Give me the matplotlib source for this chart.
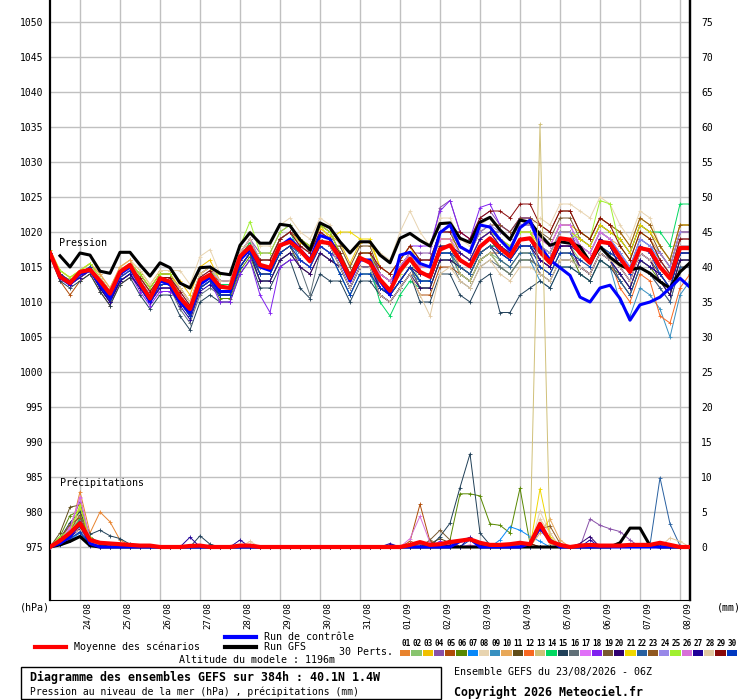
import numpy as np
import matplotlib
matplotlib.use('Agg')
import matplotlib.pyplot as plt
from matplotlib.lines import Line2D
from matplotlib.patches import Rectangle
import matplotlib.transforms as mtransforms

plt.rcParams['font.family'] = ['DejaVu Sans Mono', 'DejaVu Sans']

# time axis: 6-hourly steps over 384h
hours = np.arange(65) * 6
day_hours = [18 + 24 * k for k in range(16)]
day_labels = ['24/08', '25/08', '26/08', '27/08', '28/08', '29/08', '30/08', '31/08',
              '01/09', '02/09', '03/09', '04/09', '05/09', '06/09', '07/09', '08/09']

member_colors = ['#e8832e', '#88c46e', '#f0c000', '#8850a8', '#b04c08', '#588800',
                 '#0888f8', '#e8d4b0', '#3890c0', '#e8a858', '#604c18', '#f86820',
                 '#d0c078', '#00d860', '#204058', '#607078', '#e070f8', '#8020f0',
                 '#785830', '#300070', '#f0d800', '#2860a0', '#905820', '#9888e8',
                 '#a0f030', '#d870d8', '#200098', '#e0c8a0', '#880808', '#0038c0']

# ensemble mean, control run and GFS run (hPa)
pres_mean = [1017, 1013.6, 1012.7, 1014.3, 1014.6, 1013, 1011.2, 1014.3, 1015.3, 1012.7,
             1010.5, 1013.4, 1012.9, 1010.6, 1009, 1013.1, 1013.9, 1012.2, 1012, 1016.5,
             1017.9, 1015.3, 1014.9, 1018.1, 1018.6, 1017.4, 1015.8, 1018.6, 1018.4, 1016.3,
             1013.4, 1016.3, 1015.6, 1013.2, 1011.6, 1014.5, 1016.2, 1014.3, 1013.6, 1017.5,
             1018.1, 1016, 1015.1, 1017.9, 1019.1, 1017.7, 1016.5, 1018.9, 1019.1, 1017.2,
             1015.6, 1019.1, 1018.9, 1017, 1015.6, 1018.6, 1018.4, 1016.3, 1014.3, 1017.7,
             1017.4, 1015, 1013.4, 1017.7, 1017.7]
pres_ctrl = [1017, 1013.5, 1012.5, 1014, 1014.5, 1012.5, 1010.5, 1014, 1015, 1012.5,
             1010, 1013, 1012.5, 1010, 1008.5, 1012.5, 1013.5, 1011.5, 1011.5, 1016,
             1017.5, 1015, 1014.5, 1018, 1019, 1017.5, 1016, 1019.5, 1019, 1016,
             1013, 1016, 1016, 1013, 1011, 1016.7, 1017.1, 1015.5, 1015, 1019.9,
             1021, 1017.9, 1017.1, 1021, 1020.7, 1018.9, 1017.4, 1020.6, 1021.7, 1018,
             1016, 1014.9, 1013.8, 1010.7, 1010, 1012, 1012.4, 1010.5, 1007.4, 1009.6,
             1010, 1010.7, 1012, 1013.4, 1012.1]
pres_gfs = [np.nan, 1016.6, 1015, 1017, 1016.7, 1014.4, 1014.1, 1017.1, 1017.1, 1015.3,
            1013.7, 1015.6, 1014.9, 1012.7, 1012, 1014.9, 1015, 1014.1, 1013.9, 1018.1,
            1019.9, 1018.4, 1018.4, 1021.1, 1020.9, 1018.9, 1017.4, 1021.3, 1020.6, 1018.6,
            1017, 1018.6, 1018.6, 1016.7, 1015.6, 1019.1, 1019.8, 1018.8, 1018, 1021.2,
            1021.3, 1019.1, 1018.5, 1021.4, 1022.1, 1020.3, 1018.9, 1021.7, 1021.4, 1019.6,
            1018.1, 1018.6, 1018.4, 1017.9, 1015.7, 1017.9, 1016.4, 1015.3, 1014.6, 1014.9,
            1014.1, 1012.9, 1012, 1014.3, 1015.6]

# 30 perturbed members (hPa)
pres_01 = [1017, 1014, 1013, 1014, 1015, 1013, 1011, 1014, 1015, 1014, 1012, 1014, 1014,
           1012, 1010, 1014, 1015, 1012, 1012, 1016, 1018, 1014, 1014, 1017, 1018,
           1016, 1015, 1018, 1017, 1016, 1013, 1016, 1016, 1014, 1013, 1015, 1017,
           1014, 1014, 1018, 1018, 1015, 1014, 1017, 1018, 1016, 1015, 1017, 1017,
           1014, 1013, 1016, 1016, 1015, 1014, 1017, 1016, 1013, 1011, 1015, 1014,
           1012, 1010, 1015, 1015]
pres_02 = [1017, 1013.5, 1012.5, 1013.5, 1014.5, 1012, 1010, 1013, 1014, 1012, 1010, 1012, 1012,
           1011, 1009, 1013, 1014, 1012, 1012, 1016, 1018, 1016, 1016, 1019, 1020,
           1018, 1017, 1020, 1019, 1017, 1014, 1017, 1017, 1013, 1012, 1014, 1016,
           1013, 1013, 1017, 1017, 1014, 1013, 1016, 1017, 1016, 1015, 1017, 1017,
           1016, 1015, 1018, 1018, 1016, 1015, 1018, 1017, 1016, 1014, 1018, 1017,
           1015, 1013, 1018, 1018]
pres_03 = [1017, 1014.5, 1013.5, 1014.5, 1015.5, 1014, 1012, 1015, 1016, 1014.5, 1012.5, 1014.5, 1014.5,
           1013, 1011, 1015, 1016, 1013, 1013, 1017, 1019, 1016, 1016, 1019, 1020,
           1018.5, 1017.5, 1020.5, 1019.5, 1018.5, 1015.5, 1018.5, 1018.5, 1015, 1014, 1016, 1018,
           1016, 1016, 1020, 1020, 1017, 1016, 1019, 1020, 1019, 1018, 1020, 1020,
           1019, 1018, 1021, 1021, 1020, 1019, 1022, 1021, 1020, 1018, 1022, 1021,
           1018, 1016, 1021, 1021]
pres_04 = [1017, 1013.5, 1012.5, 1013.5, 1014.5, 1012.5, 1010.5, 1013.5, 1014.5, 1013, 1011, 1013, 1013,
           1012, 1010, 1014, 1015, 1013, 1013, 1017, 1019, 1017, 1017, 1020, 1021,
           1019, 1018, 1021, 1020, 1017, 1014, 1017, 1017, 1014, 1013, 1015, 1017,
           1017, 1017, 1023.5, 1024.5, 1020, 1019, 1022, 1023, 1021, 1020, 1022, 1022,
           1019, 1018, 1021, 1021, 1018, 1017, 1020, 1019, 1017, 1015, 1019, 1018,
           1017, 1015, 1020, 1020]
pres_05 = [1017, 1013, 1011, 1013, 1014, 1011.5, 1009.5, 1012.5, 1013.5, 1012.5, 1010.5, 1012.5, 1012.5,
           1011, 1009, 1013, 1014, 1011, 1011, 1015, 1017, 1014, 1014, 1017, 1018,
           1017, 1016, 1019, 1018, 1015, 1012, 1015, 1015, 1011, 1010, 1012, 1014,
           1011, 1011, 1015, 1015, 1014, 1013, 1016, 1017, 1017, 1016, 1018, 1018,
           1016, 1015, 1018, 1018, 1015, 1014, 1017, 1016, 1014, 1012, 1016, 1015,
           1014, 1012, 1017, 1017]
pres_06 = [1017, 1014, 1013, 1014, 1015, 1012, 1010, 1013, 1014, 1012, 1010, 1012, 1012,
           1010, 1008, 1012, 1013, 1010.5, 1010.5, 1014.5, 1016.5, 1013, 1013, 1016, 1017,
           1016, 1015, 1018, 1017, 1014, 1011, 1014, 1014, 1012, 1011, 1013, 1015,
           1013, 1013, 1017, 1017, 1014, 1013, 1016, 1017, 1015, 1014, 1016, 1016,
           1015, 1014, 1017, 1017, 1014, 1013, 1016, 1015, 1014, 1012, 1016, 1015,
           1013, 1011, 1016, 1016]
pres_07 = [1017, 1014, 1013, 1014, 1015, 1013.5, 1011.5, 1014.5, 1015.5, 1013.5, 1011.5, 1013.5, 1013.5,
           1012, 1010, 1014, 1015, 1012, 1012, 1016, 1018, 1015, 1015, 1018, 1019,
           1016, 1015, 1018, 1017, 1016, 1013, 1016, 1016, 1014, 1013, 1015, 1017,
           1015, 1015, 1019, 1019, 1016, 1015, 1018, 1019, 1017, 1016, 1018, 1018,
           1017, 1016, 1019, 1019, 1018, 1017, 1020, 1019, 1017, 1015, 1019, 1018,
           1016, 1014, 1019, 1019]
pres_08 = [1017.5, 1014.5, 1013.5, 1014.5, 1015.5, 1014, 1012, 1015, 1016, 1014.5, 1012.5, 1014.5, 1014.5,
           1014.5, 1012.5, 1016.5, 1017.5, 1014, 1014, 1018, 1020, 1018, 1018, 1021, 1022,
           1020, 1019, 1022, 1021, 1018, 1015, 1018, 1018, 1017, 1016, 1020, 1023,
           1020, 1018, 1022, 1022, 1019, 1018, 1021, 1022, 1020, 1019, 1021, 1021,
           1022, 1021, 1024, 1024, 1023, 1022, 1025, 1024, 1021, 1019, 1023, 1022,
           1018, 1016, 1021, 1021]
pres_09 = [1017, 1014, 1013, 1014, 1015, 1012.5, 1010.5, 1013.5, 1014.5, 1012, 1010, 1012, 1012,
           1010, 1008, 1012, 1013, 1011, 1011, 1015, 1017, 1013, 1013, 1016, 1017,
           1016, 1015, 1018, 1017, 1014, 1011, 1014, 1014, 1011, 1010, 1012, 1014,
           1013, 1013, 1017, 1017, 1014, 1013, 1016, 1017, 1015, 1014, 1016, 1016,
           1013, 1012, 1015, 1015, 1014, 1013, 1016, 1015, 1010, 1008, 1012, 1011,
           1009, 1005, 1011, 1013]
pres_10 = [1017, 1014.5, 1013.5, 1014.5, 1015.5, 1014, 1012, 1015, 1016, 1013.5, 1011.5, 1013.5, 1013.5,
           1011, 1009, 1013, 1014, 1013, 1013, 1017, 1019, 1016, 1016, 1019, 1020,
           1019, 1018, 1021, 1020, 1017, 1014, 1017, 1017, 1013, 1012, 1014, 1016,
           1015, 1015, 1019, 1019, 1018, 1017, 1020, 1021, 1019, 1018, 1020, 1020,
           1017, 1016, 1019, 1019, 1018, 1017, 1020, 1019, 1018, 1016, 1020, 1019,
           1017, 1015, 1020, 1020]
pres_11 = [1017, 1013.5, 1012.5, 1013.5, 1014.5, 1013, 1011, 1014, 1015, 1012, 1010, 1012, 1012,
           1010.5, 1008.5, 1012.5, 1013.5, 1012, 1012, 1016, 1018, 1014, 1014, 1017, 1018,
           1015, 1014, 1017, 1016, 1015, 1012, 1015, 1015, 1012, 1011, 1013, 1015,
           1012, 1012, 1016, 1016, 1015, 1014, 1017, 1018, 1018, 1017, 1019, 1019,
           1018, 1017, 1020, 1020, 1017, 1016, 1019, 1018, 1015, 1013, 1017, 1016,
           1014, 1012, 1017, 1017]
pres_12 = [1017, 1014, 1013, 1014, 1015, 1013, 1011, 1014, 1015, 1012.5, 1010.5, 1012.5, 1012.5,
           1011, 1009, 1013, 1014, 1012.5, 1012.5, 1016.5, 1018.5, 1015, 1015, 1018, 1019,
           1018, 1017, 1020, 1019, 1016, 1013, 1016, 1016, 1012, 1011, 1013, 1015,
           1014, 1014, 1018, 1018, 1017, 1016, 1019, 1020, 1018, 1017, 1019, 1019,
           1016, 1015, 1018, 1018, 1015, 1014, 1017, 1016, 1012, 1010, 1014, 1013,
           1008, 1007, 1012, 1014]
pres_13 = [1017, 1014, 1013, 1014, 1015, 1013.5, 1011.5, 1014.5, 1015.5, 1013, 1011, 1013, 1013,
           1010, 1008, 1012, 1013, 1011, 1011, 1015, 1017, 1015, 1015, 1018, 1019,
           1017, 1016, 1019, 1018, 1017, 1014, 1017, 1017, 1013, 1012, 1014, 1016,
           1014, 1014, 1018, 1018, 1014, 1013, 1016, 1017, 1015, 1014, 1016, 1016,
           1015, 1014, 1017, 1017, 1016, 1015, 1018, 1017, 1016, 1014, 1018, 1017,
           1016, 1014, 1019, 1019]
pres_14 = [1016.5, 1013.5, 1012.5, 1013.5, 1014.5, 1012, 1010, 1013, 1014, 1012, 1010, 1012, 1012,
           1011, 1009, 1013, 1014, 1012.5, 1012.5, 1016.5, 1018.5, 1016, 1016, 1019, 1020,
           1017, 1016, 1019, 1018, 1015, 1012, 1015, 1015, 1010, 1008, 1011, 1013,
           1012, 1012, 1016, 1016, 1015, 1014, 1017, 1018, 1018, 1017, 1019, 1019,
           1018, 1017, 1020, 1020, 1019, 1018, 1021, 1020, 1019, 1017, 1021, 1020,
           1020, 1018, 1024, 1024]
pres_15 = [1016.5, 1013, 1012, 1013, 1014, 1011.5, 1009.5, 1012.5, 1013.5, 1011, 1009, 1011, 1011,
           1008, 1006, 1010, 1011, 1010, 1010, 1014, 1016, 1012, 1012, 1015, 1016,
           1012, 1010.5, 1014, 1013, 1013, 1010, 1013, 1013, 1011, 1010, 1012, 1014,
           1010, 1010, 1014, 1014, 1011, 1010, 1013, 1014, 1008.5, 1008.5, 1011, 1012,
           1013, 1012, 1015, 1015, 1014, 1013, 1016, 1015, 1013, 1011, 1015, 1014,
           1013, 1011, 1016, 1016]
pres_16 = [1017, 1014, 1013, 1014, 1015, 1012.5, 1010.5, 1013.5, 1014.5, 1012, 1010, 1012, 1012,
           1009, 1007, 1011, 1012, 1011, 1011, 1015, 1017, 1013, 1013, 1016, 1017,
           1015, 1011, 1017, 1016, 1015, 1012, 1015, 1015, 1012, 1011, 1013, 1015,
           1012, 1012, 1016, 1016, 1013, 1012, 1015, 1016, 1015, 1014, 1016, 1016,
           1015, 1014, 1017, 1017, 1015, 1014, 1017, 1016, 1014, 1012, 1016, 1015,
           1014, 1012, 1017, 1017]
pres_17 = [1017, 1014, 1013, 1014, 1015, 1013.5, 1011.5, 1014.5, 1015.5, 1013, 1011, 1013, 1013,
           1012, 1010, 1014, 1015, 1013, 1013, 1017, 1019, 1015, 1015, 1018, 1019,
           1018, 1017, 1020, 1019, 1017, 1014, 1017, 1017, 1013, 1012, 1014, 1016,
           1015, 1015, 1019, 1019, 1016, 1015, 1018, 1019, 1019, 1018, 1020, 1020,
           1019, 1018, 1021, 1021, 1018, 1017, 1020, 1019, 1016, 1014, 1018, 1017,
           1017, 1015, 1020, 1020]
pres_18 = [1017, 1013.5, 1012.5, 1013.5, 1014.5, 1012, 1010, 1013, 1014, 1011.5, 1009.5, 1011.5, 1011.5,
           1010, 1008, 1012, 1013, 1010, 1010, 1014, 1016, 1011, 1008.5, 1015, 1016,
           1016, 1015, 1018, 1017, 1016, 1013, 1016, 1016, 1015, 1014, 1016, 1018,
           1018, 1018, 1023, 1024.5, 1020, 1019, 1023.5, 1024, 1021, 1020, 1022, 1022,
           1018, 1017, 1020, 1020, 1017, 1016, 1019, 1018, 1015, 1013, 1017, 1016,
           1015, 1013, 1018, 1018]
pres_19 = [1017, 1014, 1013, 1014, 1015, 1013, 1011, 1014, 1015, 1013.5, 1011.5, 1013.5, 1013.5,
           1011, 1009, 1013, 1014, 1013, 1013, 1017, 1019, 1015, 1015, 1018, 1019,
           1017, 1016, 1019, 1018, 1018, 1015, 1018, 1018, 1014, 1013, 1015, 1017,
           1016, 1016, 1020, 1020, 1017, 1016, 1019, 1020, 1020, 1019, 1021, 1021,
           1020, 1019, 1022, 1022, 1019, 1018, 1021, 1020, 1019, 1017, 1021, 1020,
           1017, 1015, 1020, 1020]
pres_20 = [1017, 1013.5, 1012.5, 1013.5, 1014.5, 1012, 1010, 1013, 1014, 1012, 1010, 1012, 1012,
           1010, 1008, 1012, 1013, 1011, 1011, 1015, 1017, 1013, 1013, 1016, 1017,
           1015, 1014, 1017, 1016, 1015, 1012, 1015, 1015, 1011, 1010, 1012, 1014,
           1012, 1012, 1016, 1016, 1015, 1014, 1017, 1018, 1017, 1016, 1018, 1018,
           1016, 1015, 1018, 1018, 1017, 1016, 1019, 1018, 1015, 1013, 1017, 1016,
           1013, 1011, 1016, 1016]
pres_21 = [1017.5, 1014.5, 1013.5, 1014.5, 1015.5, 1013.5, 1011.5, 1014.5, 1015.5, 1014, 1012, 1014, 1014,
           1012, 1010, 1014, 1015, 1012, 1012, 1016, 1018, 1016, 1016, 1019, 1020,
           1018, 1017, 1021, 1019, 1020, 1020, 1019, 1019, 1015, 1014, 1016, 1018,
           1015, 1015, 1019, 1019, 1016, 1015, 1018, 1019, 1019, 1018, 1020, 1020,
           1018, 1017, 1020, 1020, 1019, 1018, 1021, 1020, 1019, 1017, 1021, 1020,
           1018, 1016, 1021, 1021]
pres_22 = [1017, 1014, 1013, 1014, 1015, 1012.5, 1010.5, 1013.5, 1014.5, 1013, 1011, 1013, 1013,
           1010, 1008, 1012, 1013, 1011, 1011, 1015, 1017, 1014, 1014, 1017, 1018,
           1017, 1016, 1019, 1018, 1016, 1013, 1016, 1016, 1012, 1011, 1013, 1015,
           1013, 1013, 1017, 1017, 1015, 1014, 1017, 1018, 1016, 1015, 1017, 1017,
           1014, 1013, 1016, 1016, 1015, 1014, 1017, 1016, 1013, 1011, 1015, 1014,
           1012, 1010, 1015, 1015]
pres_23 = [1017, 1014, 1013, 1014, 1015, 1013.5, 1011.5, 1014.5, 1015.5, 1014, 1012, 1014, 1014,
           1011, 1009, 1013, 1014, 1012, 1012, 1016, 1018, 1016, 1016, 1019, 1020,
           1019, 1018, 1021, 1020, 1017, 1014, 1017, 1017, 1014, 1013, 1015, 1017,
           1016, 1016, 1020, 1020, 1018, 1017, 1020, 1021, 1021, 1020, 1022, 1022,
           1021, 1020, 1023, 1023, 1020, 1019, 1022, 1021, 1020, 1018, 1022, 1021,
           1018, 1016, 1021, 1021]
pres_24 = [1017, 1014, 1013, 1014, 1015, 1013, 1011, 1014, 1015, 1013, 1011, 1013, 1013,
           1011.5, 1009.5, 1013.5, 1014.5, 1013, 1013, 1017, 1019, 1016, 1016, 1019, 1020,
           1018, 1017, 1020, 1019, 1016, 1013, 1016, 1016, 1014, 1013, 1015, 1017,
           1016, 1016, 1020, 1020, 1018, 1017, 1020, 1021, 1020, 1019, 1021, 1021,
           1018, 1017, 1020, 1020, 1018, 1017, 1020, 1019, 1017, 1015, 1019, 1018,
           1017, 1015, 1020, 1020]
pres_25 = [1017, 1014.5, 1013.5, 1014.5, 1015.5, 1013.5, 1011.5, 1014.5, 1015.5, 1014, 1012, 1014, 1014,
           1011, 1009, 1013, 1014, 1014, 1014, 1018, 1021.5, 1017, 1017, 1020, 1021,
           1019, 1018, 1021, 1020, 1017, 1014, 1017, 1017, 1013, 1012, 1014, 1016,
           1014, 1014, 1018, 1018, 1017, 1016, 1019, 1020, 1019, 1018, 1020, 1020,
           1017, 1016, 1019, 1019, 1020, 1019, 1024.5, 1024, 1018, 1016, 1020, 1019,
           1016, 1014, 1019, 1019]
pres_26 = [1017, 1013.5, 1012.5, 1013.5, 1014.5, 1012.5, 1010.5, 1013.5, 1014.5, 1012, 1010, 1012, 1012,
           1011, 1009, 1013, 1014, 1012, 1012, 1016, 1018, 1015, 1015, 1018, 1019,
           1017, 1016, 1019, 1018, 1016, 1013, 1016, 1016, 1014, 1013, 1015, 1017,
           1015, 1015, 1019, 1019, 1017, 1016, 1019, 1020, 1018, 1017, 1019, 1019,
           1017, 1016, 1019, 1019, 1018, 1017, 1020, 1019, 1016, 1014, 1018, 1017,
           1016, 1014, 1019, 1019]
pres_27 = [1017, 1013.5, 1012.5, 1013.5, 1014.5, 1012, 1010, 1013, 1014, 1012, 1010, 1012, 1012,
           1009.5, 1007.5, 1011.5, 1012.5, 1011, 1011, 1015, 1017, 1015, 1015, 1018, 1019,
           1017, 1016, 1019, 1018, 1015, 1012, 1015, 1015, 1012, 1011, 1013, 1015,
           1014, 1014, 1018, 1018, 1017, 1016, 1019, 1020, 1018, 1017, 1019, 1019,
           1016, 1015, 1018, 1018, 1015, 1014, 1017, 1016, 1014, 1012, 1016, 1015,
           1014, 1012, 1017, 1017]
pres_28 = [1017, 1014, 1013, 1014, 1015, 1013.5, 1011.5, 1014.5, 1015.5, 1013.5, 1011.5, 1013.5, 1013.5,
           1012, 1010, 1014, 1015, 1013, 1013, 1017, 1019, 1015, 1015, 1018, 1019,
           1017, 1016, 1019, 1018, 1015, 1012, 1015, 1015, 1011, 1010, 1012, 1014,
           1011, 1008, 1014, 1015, 1013, 1012, 1015, 1016, 1014, 1013, 1015, 1015,
           1014, 1013, 1016, 1016, 1015, 1014, 1017, 1016, 1015, 1013, 1017, 1016,
           1015, 1013, 1018, 1018]
pres_29 = [1017, 1014, 1013, 1014, 1015, 1013, 1011, 1014, 1015, 1013.5, 1011.5, 1013.5, 1013.5,
           1011.5, 1009.5, 1013.5, 1014.5, 1012, 1012, 1016, 1018, 1016, 1016, 1019, 1020,
           1018, 1017, 1020, 1019, 1017, 1014, 1017, 1017, 1015, 1014, 1016, 1018,
           1016, 1016, 1020, 1020, 1020, 1019, 1022, 1023, 1023, 1022, 1024, 1024,
           1021, 1020, 1023, 1023, 1020, 1019, 1022, 1021, 1018, 1016, 1020, 1019,
           1016, 1014, 1019, 1019]
pres_30 = [1017, 1014, 1013, 1014, 1015, 1012.5, 1010.5, 1013.5, 1014.5, 1012.5, 1010.5, 1012.5, 1012.5,
           1010, 1008, 1012, 1013, 1011, 1011, 1015, 1017, 1014, 1014, 1017, 1018,
           1016, 1015, 1018, 1017, 1014, 1011, 1014, 1014, 1012, 1011, 1013, 1015,
           1013, 1013, 1017, 1017, 1016, 1015, 1018, 1019, 1017, 1016, 1018, 1018,
           1015, 1014, 1017, 1017, 1016, 1015, 1018, 1017, 1016, 1014, 1018, 1017,
           1014, 1012, 1017, 1017]

# precipitation (mm), only the non-zero steps: {step index: mm}
rain_mean = {1: 0.9, 2: 2.0, 3: 3.4, 4: 1.0, 5: 0.6, 6: 0.5, 7: 0.4, 8: 0.3, 9: 0.2, 10: 0.2,
             14: 0.15, 15: 0.2, 19: 0.2, 20: 0.2, 36: 0.3, 37: 0.7, 38: 0.3, 39: 0.4,
             40: 0.7, 41: 0.9, 42: 1.1, 43: 0.6, 44: 0.3, 45: 0.3, 46: 0.4, 47: 0.6, 48: 0.4,
             49: 3.3, 50: 0.8, 51: 0.3, 53: 0.2, 54: 0.3, 55: 0.2, 56: 0.2, 57: 0.2, 58: 0.3,
             59: 0.3, 60: 0.3, 61: 0.6, 62: 0.3}
rain_ctrl = {1: 0.5, 2: 1.5, 3: 3.5, 4: 0.5, 41: 0.8, 42: 1.2, 48: 0.5, 49: 2.7, 50: 1.0}
rain_gfs = {1: 0.3, 2: 0.8, 3: 1.5, 4: 0.2, 57: 0.6, 58: 2.7, 59: 2.7, 60: 0.2}
rain_01 = {1: 0.5, 2: 2.0, 3: 7.9, 4: 2.0, 5: 5.0, 6: 3.6, 7: 1.0, 8: 0.2}
rain_02 = {1: 1.0, 2: 2.5, 3: 4.0, 4: 0.8, 5: 0.2}
rain_03 = {1: 0.5, 2: 1.5, 3: 3.0, 4: 0.5}
rain_04 = {1: 1.2, 2: 3.0, 3: 6.5, 4: 1.0, 5: 0.3, 37: 0.5, 54: 4.0, 55: 3.1, 56: 2.6, 57: 2.2, 58: 1.0}
rain_05 = {1: 0.8, 2: 2.2, 3: 3.5, 4: 0.6, 36: 0.8, 37: 6.1, 38: 0.8, 39: 0.3, 40: 1.0}
rain_06 = {1: 1.5, 2: 4.5, 3: 5.2, 4: 1.0, 40: 1.0, 41: 7.6, 42: 7.6, 43: 7.3, 44: 3.3,
           45: 3.1, 46: 2.0, 47: 8.4, 48: 0.5}
rain_07 = {1: 0.3, 2: 1.0, 3: 2.0, 4: 0.3, 45: 1.0, 46: 2.9, 47: 2.4, 48: 1.5, 49: 0.8}
rain_08 = {1: 0.5, 2: 1.8, 3: 3.5, 4: 0.8, 49: 5.1, 50: 2.0}
rain_09 = {1: 0.8, 2: 2.5, 3: 2.8, 4: 1.0, 5: 0.3}
rain_10 = {1: 0.6, 2: 1.7, 3: 5.5, 4: 1.2, 49: 2.0, 50: 4.0, 51: 1.0}
rain_11 = {1: 2.0, 2: 5.7, 3: 6.0, 4: 1.5, 5: 0.5, 38: 0.5, 39: 1.2, 40: 0.6}
rain_12 = {1: 0.4, 2: 1.2, 3: 3.2, 4: 0.7}
rain_13 = {1: 0.5, 2: 1.5, 3: 4.5, 4: 1.0, 48: 0.3, 49: 60.4, 50: 0.5}
rain_14 = {1: 1.0, 2: 2.0, 3: 4.0, 4: 0.5, 44: 0.3}
rain_15 = {1: 1.2, 2: 3.5, 3: 5.0, 4: 1.8, 5: 2.4, 6: 1.6, 7: 1.2, 8: 0.4, 15: 1.6, 16: 0.4,
           39: 1.5, 40: 3.4, 41: 8.5, 42: 13.3, 43: 2.0, 44: 0.3}
rain_16 = {1: 0.8, 2: 2.0, 3: 3.8, 4: 0.9}
rain_17 = {1: 0.7, 2: 2.8, 3: 7.0, 4: 1.2}
rain_18 = {1: 0.6, 2: 1.6, 3: 3.0, 4: 0.6, 39: 0.8}
rain_19 = {1: 1.0, 2: 2.4, 3: 4.6, 4: 1.0, 38: 1.0, 39: 2.4, 40: 1.0}
rain_20 = {1: 0.5, 2: 1.4, 3: 2.6, 4: 0.4, 53: 0.5, 54: 1.5}
rain_21 = {1: 0.8, 2: 2.2, 3: 6.0, 4: 0.8, 49: 8.3, 50: 1.5}
rain_22 = {1: 0.5, 2: 1.3, 3: 2.0, 4: 0.3, 60: 0.3, 61: 9.9, 62: 3.3, 63: 0.2}
rain_23 = {1: 1.2, 2: 3.2, 3: 4.2, 4: 1.1, 49: 2.5, 50: 3.0, 51: 0.5}
rain_24 = {1: 0.6, 2: 1.8, 3: 3.6, 4: 0.7}
rain_25 = {1: 1.5, 2: 2.4, 3: 5.8, 4: 1.4}
rain_26 = {1: 0.9, 2: 2.6, 3: 7.2, 4: 1.0, 36: 1.2, 37: 4.4, 38: 0.6, 40: 0.5, 42: 0.3}
rain_27 = {1: 0.4, 2: 1.0, 3: 1.6, 4: 0.2, 14: 1.4, 19: 1.0, 34: 0.5, 42: 1.4, 43: 0.3, 54: 1.0}
rain_28 = {1: 0.7, 2: 1.9, 3: 2.4, 4: 0.8, 20: 0.8, 49: 4.0, 50: 2.0, 62: 1.3, 63: 0.8}
rain_29 = {1: 0.6, 2: 1.6, 3: 3.0, 4: 0.5, 40: 0.3, 48: 0.5}
rain_30 = {1: 0.5, 2: 1.2, 3: 2.2, 4: 0.4, 42: 1.0}

pres_members = [pres_01, pres_02, pres_03, pres_04, pres_05, pres_06, pres_07, pres_08, pres_09, pres_10,
                pres_11, pres_12, pres_13, pres_14, pres_15, pres_16, pres_17, pres_18, pres_19, pres_20,
                pres_21, pres_22, pres_23, pres_24, pres_25, pres_26, pres_27, pres_28, pres_29, pres_30]
rain_members = [rain_01, rain_02, rain_03, rain_04, rain_05, rain_06, rain_07, rain_08, rain_09, rain_10,
                rain_11, rain_12, rain_13, rain_14, rain_15, rain_16, rain_17, rain_18, rain_19, rain_20,
                rain_21, rain_22, rain_23, rain_24, rain_25, rain_26, rain_27, rain_28, rain_29, rain_30]

for k, p in enumerate(pres_members):
    if len(p) != 65:
        raise ValueError('member %d has %d values' % (k + 1, len(p)))


def rain_series(d):
    r = np.zeros(len(hours))
    for i, v in d.items():
        r[i] = v
    return r


W, H = 740, 700


def fx(x):
    return x / W


def fy(y):
    return 1 - y / H


fig = plt.figure(figsize=(W / 100, H / 100), dpi=100)
ax = fig.add_axes([fx(50), fy(600), 640 / W, 600 / H])
ax.set_xlim(0, 384)
ax.set_ylim(975 - 53 / 7, 1050 + 22 / 7)
ax.set_yticks(range(975, 1051, 5))
ax.set_xticks(day_hours)
ax.grid(color='#c0c0c0', lw=1)
ax.set_axisbelow(True)
ax.tick_params(axis='y', length=0, pad=4.8, labelsize=7)
ax.tick_params(axis='x', length=0, pad=1.5, labelsize=6.5)
ax.set_xticklabels(day_labels, rotation=90, va='top', ha='center')
offset = mtransforms.ScaledTranslation(7 / 100, 0, fig.dpi_scale_trans)
for lab in ax.get_xticklabels():
    lab.set_transform(lab.get_transform() + offset)
ax.spines['top'].set_visible(False)
ax.spines['left'].set_linewidth(1.6)
ax.spines['right'].set_linewidth(1.6)
ax.spines['bottom'].set_linewidth(0.8)

ax2 = ax.twinx()
ax2.set_ylim(-53 / 7, 75 + 22 / 7)
ax2.set_yticks(range(0, 76, 5))
ax2.tick_params(axis='y', length=0, pad=8, labelsize=7)
ax2.spines['top'].set_visible(False)
ax2.spines['right'].set_linewidth(1.6)
ax2.spines['left'].set_visible(False)
ax2.spines['bottom'].set_visible(False)

# pressure
for p, c in zip(pres_members, member_colors):
    ax.plot(hours, p, color=c, lw=0.7, marker='+', ms=3, mew=0.6, zorder=2)
ax.plot(hours, pres_gfs, color='black', lw=2.2, zorder=3)
ax.plot(hours, pres_ctrl, color='#0000ff', lw=2.2, zorder=4)
ax.plot(hours, pres_mean, color='#ff0000', lw=3, zorder=5)

# precipitation
for d, c in zip(rain_members, member_colors):
    ax2.plot(hours, rain_series(d), color=c, lw=0.7, marker='+', ms=3, mew=0.6, zorder=2)
ax2.plot(hours, rain_series(rain_gfs), color='black', lw=2.2, zorder=3)
ax2.plot(hours, rain_series(rain_ctrl), color='#0000ff', lw=2.2, zorder=4)
ax2.plot(hours, rain_series(rain_mean), color='#ff0000', lw=3, zorder=5)

fs = 7.2
fig.text(fx(59), fy(243), 'Pression', fontsize=fs, va='center', ha='left')
fig.text(fx(60), fy(483), 'Précipitations', fontsize=fs, va='center', ha='left')
fig.text(fx(20), fy(607), '(hPa)', fontsize=fs, va='center', ha='left')
fig.text(fx(717), fy(607), '(mm)', fontsize=fs, va='center', ha='left')

# legend
fig.add_artist(Line2D([fx(35), fx(66)], [fy(647), fy(647)], color='#ff0000', lw=3))
fig.text(fx(74), fy(647), 'Moyenne des scénarios', fontsize=fs, va='center', ha='left')
fig.add_artist(Line2D([fx(225), fx(256)], [fy(636.5), fy(636.5)], color='#0000ff', lw=3))
fig.text(fx(264), fy(637), 'Run de contrôle', fontsize=fs, va='center', ha='left')
fig.add_artist(Line2D([fx(225), fx(256)], [fy(647), fy(647)], color='black', lw=3))
fig.text(fx(264), fy(647), 'Run GFS', fontsize=fs, va='center', ha='left')
fig.text(fx(339), fy(652), '30 Perts.', fontsize=fs, va='center', ha='left')
fig.text(fx(257), fy(660), 'Altitude du modele : 1196m', fontsize=fs, va='center', ha='center')

sq = 338 / 30
for k, c in enumerate(member_colors):
    x0 = 400 + k * sq
    fig.add_artist(Rectangle((fx(x0), fy(656)), (sq - 1) / W, 6 / H, facecolor=c,
                             edgecolor='none', transform=fig.transFigure))
    fig.text(fx(x0 + sq / 2), fy(643.5), '%02d' % (k + 1), fontsize=5.5, fontweight='bold',
             va='center', ha='center')

fig.add_artist(Rectangle((fx(20.7), fy(699.3)), 420 / W, 32 / H, facecolor='none',
                         edgecolor='black', lw=1, transform=fig.transFigure))
fig.text(fx(30), fy(677), 'Diagramme des ensembles GEFS sur 384h : 40.1N 1.4W',
         fontsize=8.4, fontweight='bold', va='center', ha='left')
fig.text(fx(30), fy(692), 'Pression au niveau de la mer (hPa) , précipitations (mm)',
         fontsize=7, va='center', ha='left')
fig.text(fx(454), fy(672), 'Ensemble GEFS du 23/08/2026 - 06Z', fontsize=fs, va='center', ha='left')
fig.text(fx(454), fy(692), 'Copyright 2026 Meteociel.fr', fontsize=8.4, fontweight='bold',
         va='center', ha='left')

fig.savefig('out.png', dpi=100)
